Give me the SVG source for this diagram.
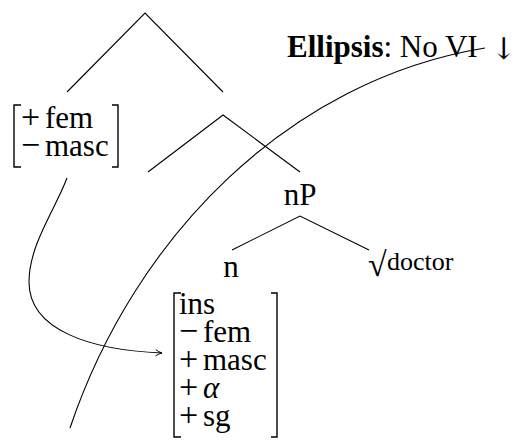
<svg xmlns="http://www.w3.org/2000/svg" width="519" height="440" viewBox="0 0 519 440">
<style>
text{font-family:"Liberation Serif","Times New Roman",serif;font-size:31px;fill:#000}
.b{font-weight:bold}
.op{font-size:34px}
.l{fill:none;stroke:#000;stroke-width:1.1}
.br{fill:none;stroke:#000;stroke-width:1.4}
.m{text-anchor:middle}
</style>
<defs>
<marker id="arr" viewBox="0 0 10 10" refX="9" refY="5" markerWidth="8" markerHeight="8" markerUnits="userSpaceOnUse" orient="auto">
<path d="M1,1 Q5,4 9,5 Q5,6 1,9" fill="none" stroke="#000" stroke-width="1.2"/>
</marker>
</defs>
<g id="edges">
<path class="l" d="M67,92 L145,13 L223,92"/>
<path class="l" d="M148,172 L223,115 L300,172"/>
<path class="l" d="M232,250 L300,216 L369,250"/>
</g>
<g id="feat-top">
<path class="br" d="M21,105 H14 V167 H21 M112,105 H118 V167 H112"/>
<text y="128"><tspan class="op" x="21">+</tspan><tspan x="45">fem</tspan></text>
<text y="156"><tspan class="op" x="21">−</tspan><tspan x="45">masc</tspan></text>
</g>
<g id="nP"><text class="m" x="300" y="205">nP</text></g>
<g id="n"><text class="m" x="231" y="277">n</text></g>
<g id="root"><text y="272"><tspan x="368" y="276" font-size="34">√</tspan><tspan x="387" y="270" font-size="26">doctor</tspan></text></g>
<g id="ellipsis"><text x="287" y="57"><tspan class="b">Ellipsis</tspan>: No VI<tspan x="491" y="59" font-family="DejaVu Serif" font-size="30">↓</tspan></text></g>
<g id="feat-bottom">
<path class="br" d="M181,293 H174 V437 H181 M271,293 H277 V437 H271"/>
<text x="179" y="314">ins</text>
<text y="342"><tspan class="op" x="179">−</tspan><tspan x="203">fem</tspan></text>
<text y="370"><tspan class="op" x="179">+</tspan><tspan x="203">masc</tspan></text>
<text y="398"><tspan class="op" x="179">+</tspan><tspan x="203" font-style="italic">α</tspan></text>
<text y="426"><tspan class="op" x="179">+</tspan><tspan x="203">sg</tspan></text>
</g>
<g id="connectors">
<path class="l" d="M67,178 C55,210 29,245 29,282 C29,330 90,350 162,353" marker-end="url(#arr)"/>
<path class="l" d="M70,428 C135,235 290,80 485,48"/>
</g>
</svg>
